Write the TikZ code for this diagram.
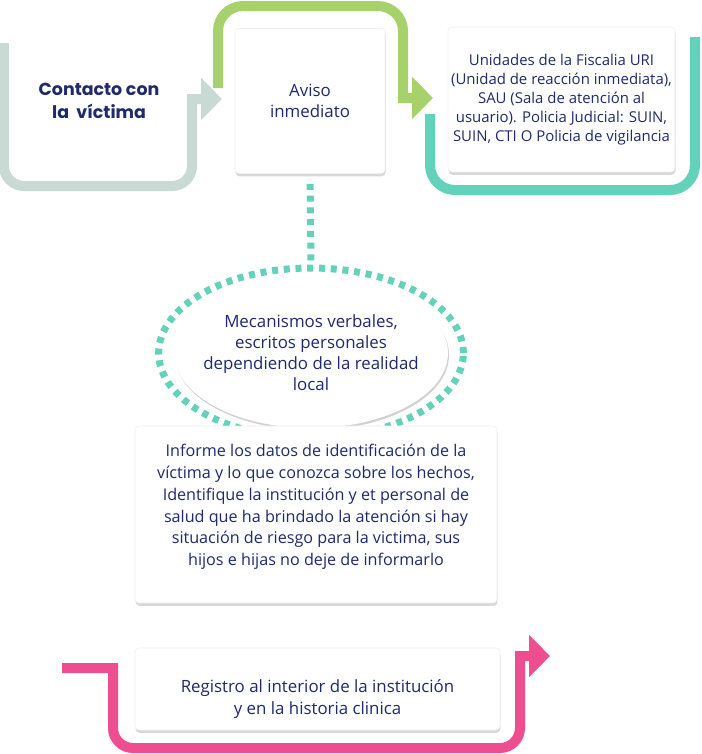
\documentclass[tikz,border=0pt]{standalone}
\usepackage{fontspec}
\setmainfont{Open Sans}
\newfontfamily\headfont{Poppins}
\usetikzlibrary{arrows.meta,shadows,shapes.geometric,positioning}
\definecolor{navy}{HTML}{1F2A6B}
\definecolor{sage}{HTML}{C8DAD3}
\definecolor{leaf}{HTML}{A7D16B}
\definecolor{aqua}{HTML}{64D1BB}
\definecolor{rose}{HTML}{EE4E8F}
\tikzset{
  flow/.style={line width=0.2cm, -{Triangle[width=0.82cm,length=0.42cm]}},
  dots/.style={aqua, line width=0.14cm, dash pattern=on 0.12cm off 0.115cm},
  card/.style={rectangle, rounded corners=0.08cm, fill=white, draw=gray!12,
    drop shadow={shadow xshift=0.3pt, shadow yshift=-1.6pt, opacity=0.3},
    text=navy, align=center, inner sep=0pt},
  txt/.style={text=navy, align=center, font=\fontsize{9.2}{12.4}\selectfont}
}
\begin{document}
\begin{tikzpicture}[x=0.02cm,y=-0.02cm]
		\useasboundingbox[fill=white] (0,0) rectangle (701,754);
		
		% Bent arrows
		\draw[aqua, line width=0.2cm, rounded corners=0.5cm] (430,114) -- (430,190) -- (695,190) -- (695,37);
		\draw[leaf, flow] (218,88) [rounded corners=0.5cm] -- (218,6) -- (403,6) [sharp corners] -- (403,98) -- (433,98);
		\draw[sage, flow] (4,43) [rounded corners=0.4cm] -- (4,186) -- (192,186) [sharp corners] -- (192,99) -- (222,99);
		\draw[rose, flow] (62,668) -- (113,668) [rounded corners=0.4cm] -- (113,748) -- (520,748) [sharp corners] -- (520,656) -- (550,656);
		
		% Boxes
		\node[txt, font=\headfont\bfseries\fontsize{9.9}{12.8}\selectfont] (contacto) at (99,101) {Contacto con\\la\ \ víctima};
		\node[card, minimum width=3cm, minimum height=2.9cm, font=\fontsize{9.6}{12}\selectfont] (aviso) at (310,101) {Aviso\\inmediato};
		\node[card, minimum width=4.54cm, minimum height=2.9cm, font=\fontsize{8.5}{10.8}\selectfont] (uri) at (561.5,99.5) {Unidades de la Fiscalia URI\\(Unidad de reacción inmediata),\\SAU (Sala de atención al\\usuario). Policia Judicial: SUIN,\\SUIN, CTI O Policia de vigilancia};
		
		% Ellipse
		\fill[white, drop shadow={shadow xshift=0.6pt, shadow yshift=-1.2pt, opacity=0.35}] (311,353) ellipse (2.74cm and 1.5cm);
		\node[ellipse, dots, draw, minimum width=5.92cm, minimum height=3.4cm, inner sep=0pt, txt, font=\fontsize{9.6}{12}\selectfont] (mec) at (311,353) {Mecanismos verbales,\\escritos personales\\dependiendo de la realidad\\local};
		\draw[dots, shorten <=0.2cm] (aviso.south) -- (mec.north);
		
		\node[card, minimum width=7.24cm, minimum height=3.54cm] (informe) at (316,514.5) {};
		\node[txt] (informetxt) at (316,507) {Informe los datos de identificación de la\\víctima y lo que conozca sobre los hechos,\\Identifique la institución y et personal de\\salud que ha brindado la atención si hay\\situación de riesgo para la victima, sus\\hijos e hijas no deje de informarlo};
		
		\node[card, minimum width=7.3cm, minimum height=1.64cm] (registro) at (317.5,689) {};
		\node[txt, font=\fontsize{9.6}{12.5}\selectfont] (registrotxt) at (317.5,699) {Registro al interior de la institución\\y en la historia clinica};
		
		\end{tikzpicture}
\end{document}
